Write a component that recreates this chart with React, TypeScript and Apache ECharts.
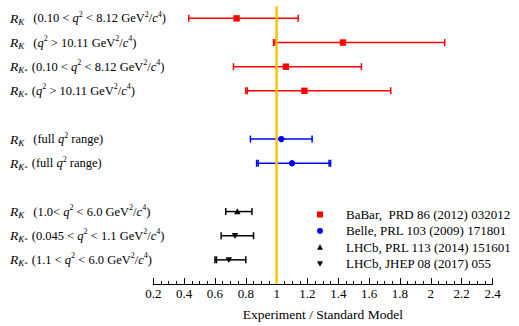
import React, { useEffect, useRef } from "react";
import * as echarts from "echarts";

// Row positions on the vertical scale (gaps separate the experiment groups)
const LABEL_ROWS = [0, 1, 2, 3, 5, 6, 8, 9, 10];
const LABEL_MESONS = ["K", "K", "K*", "K*", "K", "K*", "K", "K*", "K*"];

// BaBar
const BABAR_ROWS = [0, 1, 2, 3];
const BABAR_VALUES = [0.74, 1.43, 1.06, 1.18];
const BABAR_LOW = [0.43, 0.98, 0.72, 0.8];
const BABAR_HIGH = [1.14, 2.09, 1.55, 1.74];
const BABAR_LOW_INNER = [null, 0.99, null, 0.81];
const BABAR_HIGH_INNER = [null, null, null, null];

// Belle
const BELLE_ROWS = [5, 6];
const BELLE_VALUES = [1.03, 1.1];
const BELLE_LOW = [0.83, 0.87];
const BELLE_HIGH = [1.23, 1.35];
const BELLE_LOW_INNER = [null, 0.88];
const BELLE_HIGH_INNER = [null, 1.34];

// LHCb R_K
const LHCB_K_ROWS = [8];
const LHCB_K_VALUES = [0.745];
const LHCB_K_LOW = [0.67];
const LHCB_K_HIGH = [0.84];
const LHCB_K_LOW_INNER = [null];
const LHCB_K_HIGH_INNER = [null];

// LHCb R_K*
const LHCB_KST_ROWS = [9, 10];
const LHCB_KST_VALUES = [0.73, 0.69];
const LHCB_KST_LOW = [0.64, 0.6];
const LHCB_KST_HIGH = [0.85, 0.8];
const LHCB_KST_LOW_INNER = [null, 0.61];
const LHCB_KST_HIGH_INNER = [null, null];

const STANDARD_MODEL = [1];

const X_MIN = 0.2;
const X_MAX = 2.4;
const X_STEP = 0.2;
const Y_MIN = -0.5;
const Y_MAX = 11;

const LEGEND_NAMES = [
  "BaBar,  PRD 86 (2012) 032012",
  "Belle, PRL 103 (2009) 171801",
  "LHCb, PRL 113 (2014) 151601",
  "LHCb, JHEP 08 (2017) 055",
];
const LEGEND_COLORS = ["#ff0000", "#0000ff", "#000000", "#000000"];
const LEGEND_SHAPES: Shape[] = ["square", "circle", "up", "down"];

const FONT = "Liberation Serif, serif";

// rich-text pieces for the q^2 ranges
const Q2 = "{i|q}{sup|2}";
const UNIT = "{n| GeV}{sup|2}{n|/}{i|c}{sup|4}";
const LABEL_RANGES = [
  `{n|0.10 < }${Q2}{n| < 8.12}${UNIT}`,
  `${Q2}{n| > 10.11}${UNIT}`,
  `{n|0.10 < }${Q2}{n| < 8.12}${UNIT}`,
  `${Q2}{n| > 10.11}${UNIT}`,
  `{n|full }${Q2}{n| range}`,
  `{n|full }${Q2}{n| range}`,
  `{n|1.0< }${Q2}{n| < 6.0}${UNIT}`,
  `{n|0.045 < }${Q2}{n| < 1.1}${UNIT}`,
  `{n|1.1 < }${Q2}{n| < 6.0}${UNIT}`,
];

function labelText(i: number): string {
  const meson = LABEL_MESONS[i];
  const sub = meson === "K*" ? "{s|K}{st|*}" : "{s|K}";
  const open = meson === "K*" ? "{pks|(}" : "{pk|(}";
  return `{r|R}${sub}${open}${LABEL_RANGES[i]}{n|)}`;
}

const RICH = {
  r: { fontFamily: FONT, fontStyle: "italic", fontSize: 13.5, lineHeight: 16, verticalAlign: "middle", fill: "#000" },
  s: { fontFamily: FONT, fontStyle: "italic", fontSize: 9, lineHeight: 6, verticalAlign: "bottom", fill: "#000" },
  st: { fontFamily: FONT, fontSize: 7, lineHeight: 10, verticalAlign: "bottom", fill: "#000" },
  pk: { fontFamily: FONT, fontSize: 12.5, lineHeight: 16, verticalAlign: "middle", padding: [0, 0, 0, 9], fill: "#000" },
  pks: { fontFamily: FONT, fontSize: 12.5, lineHeight: 16, verticalAlign: "middle", padding: [0, 0, 0, 4], fill: "#000" },
  n: { fontFamily: FONT, fontSize: 12.5, lineHeight: 16, verticalAlign: "middle", fill: "#000" },
  i: { fontFamily: FONT, fontStyle: "italic", fontSize: 12.5, lineHeight: 16, verticalAlign: "middle", fill: "#000" },
  sup: { fontFamily: FONT, fontSize: 8, lineHeight: 9, verticalAlign: "top", fill: "#000" },
};

type Shape = "square" | "circle" | "up" | "down";

// marker element centred on (x, y)
function marker(shape: Shape, x: number, y: number, color: string, m: number): any {
  if (shape === "square") {
    return { type: "rect", shape: { x: x - m, y: y - m, width: 2 * m, height: 2 * m }, style: { fill: color } };
  }
  if (shape === "circle") {
    return { type: "circle", shape: { cx: x, cy: y, r: m }, style: { fill: color } };
  }
  if (shape === "up") {
    return { type: "polygon", shape: { points: [[x, y - m], [x - m, y + m - 0.5], [x + m, y + m - 0.5]] }, style: { fill: color } };
  }
  return { type: "polygon", shape: { points: [[x - m, y - m + 0.5], [x + m, y - m + 0.5], [x, y + m]] }, style: { fill: color } };
}

function buildData(rows: number[], vals: number[], lo: number[], hi: number[], loIn: (number | null)[], hiIn: (number | null)[]) {
  return rows.map((r, i) => [r, vals[i], lo[i], hi[i], loIn[i] == null ? "-" : loIn[i], hiIn[i] == null ? "-" : hiIn[i]]);
}

function errorBarRenderer(shape: Shape, color: string) {
  return (params: any, api: any) => {
    const row = api.value(0);
    const c = api.coord([api.value(1), row]);
    const lo = api.coord([api.value(2), row]);
    const hi = api.coord([api.value(3), row]);
    const y = c[1];
    const lw = 1.5;
    const cap = 3.5;
    const children: any[] = [
      { type: "line", shape: { x1: lo[0], y1: y, x2: hi[0], y2: y }, style: { stroke: color, lineWidth: lw } },
    ];
    const capXs = [lo[0], hi[0]];
    [api.value(4), api.value(5)].forEach((v: number) => {
      if (isFinite(v)) capXs.push(api.coord([v, row])[0]);
    });
    capXs.forEach((x) =>
      children.push({ type: "line", shape: { x1: x, y1: y - cap, x2: x, y2: y + cap }, style: { stroke: color, lineWidth: lw } })
    );
    children.push(marker(shape, c[0], y, color, 3.2));
    return { type: "group", children };
  };
}

function errorSeries(name: string, shape: Shape, color: string, data: any[]) {
  return {
    type: "custom",
    name,
    dimensions: ["row", "value", "low", "high", "lowInner", "highInner"],
    encode: { y: 0, x: [1, 2, 3, 4, 5] },
    itemStyle: { color },
    renderItem: errorBarRenderer(shape, color),
    data,
    z: 3,
  };
}

export default function App() {
  const ref = useRef<HTMLDivElement>(null);

  useEffect(() => {
    document.body.style.margin = "0";
    if (!ref.current) return;
    const chart = echarts.init(ref.current, undefined, { renderer: "svg" });

    // legend block in the lower right
    const legendTop = 214.5;
    const legendStep = 16.4;
    const legendGraphic = LEGEND_NAMES.map((name, i) => ({
      type: "group",
      x: 320,
      y: legendTop + i * legendStep,
      children: [
        marker(LEGEND_SHAPES[i], 0, 0, LEGEND_COLORS[i], 3),
        {
          type: "text",
          x: 26,
          y: 0,
          style: { text: name, font: `13px ${FONT}`, fill: "#000", verticalAlign: "middle", align: "left" },
        },
      ],
    }));

    const option: any = {
      animation: false,
      backgroundColor: "#fff",
      grid: { left: 153.3, right: 26.5, top: 6.3, bottom: 37.5 },
      xAxis: {
        type: "value",
        min: X_MIN,
        max: X_MAX,
        interval: X_STEP,
        axisLine: { show: true, onZero: false, lineStyle: { color: "#000", width: 1 } },
        axisTick: { show: true, inside: true, length: 6, lineStyle: { color: "#000" } },
        minorTick: { show: true, splitNumber: 4, length: 3, lineStyle: { color: "#000" } },
        splitLine: { show: false },
        axisLabel: {
          color: "#000",
          fontFamily: FONT,
          fontSize: 13,
          margin: 3,
          formatter: (v: number) => String(Number(v.toFixed(1))),
        },
        name: "Experiment / Standard Model",
        nameLocation: "middle",
        nameGap: 23,
        nameTextStyle: { color: "#000", fontFamily: FONT, fontSize: 13.5 },
      },
      yAxis: {
        type: "value",
        inverse: true,
        min: Y_MIN,
        max: Y_MAX,
        show: false,
      },
      graphic: legendGraphic,
      series: [
        // row labels on the left
        {
          type: "custom",
          name: "labels",
          dimensions: ["row"],
          encode: { y: 0 },
          data: LABEL_ROWS.map((r) => [r]),
          renderItem: (params: any, api: any) => {
            const p = api.coord([X_MIN, api.value(0)]);
            return {
              type: "text",
              x: params.coordSys.x - 143.3,
              y: p[1],
              style: {
                text: labelText(params.dataIndex),
                rich: RICH,
                verticalAlign: "middle",
                align: "left",
                fill: "#000",
              },
            };
          },
        },
        errorSeries(LEGEND_NAMES[2], "up", "#000000", buildData(LHCB_K_ROWS, LHCB_K_VALUES, LHCB_K_LOW, LHCB_K_HIGH, LHCB_K_LOW_INNER, LHCB_K_HIGH_INNER)),
        errorSeries(LEGEND_NAMES[3], "down", "#000000", buildData(LHCB_KST_ROWS, LHCB_KST_VALUES, LHCB_KST_LOW, LHCB_KST_HIGH, LHCB_KST_LOW_INNER, LHCB_KST_HIGH_INNER)),
        errorSeries(LEGEND_NAMES[0], "square", "#ff0000", buildData(BABAR_ROWS, BABAR_VALUES, BABAR_LOW, BABAR_HIGH, BABAR_LOW_INNER, BABAR_HIGH_INNER)),
        errorSeries(LEGEND_NAMES[1], "circle", "#0000ff", buildData(BELLE_ROWS, BELLE_VALUES, BELLE_LOW, BELLE_HIGH, BELLE_LOW_INNER, BELLE_HIGH_INNER)),
        // Standard Model reference line
        {
          type: "custom",
          name: "Standard Model",
          dimensions: ["value"],
          encode: { x: 0 },
          data: STANDARD_MODEL.map((v) => [v]),
          z: 4,
          renderItem: (params: any, api: any) => {
            const top = api.coord([api.value(0), Y_MIN]);
            const bottom = api.coord([api.value(0), Y_MAX]);
            return {
              type: "line",
              shape: { x1: top[0], y1: top[1], x2: bottom[0], y2: bottom[1] },
              style: { stroke: "#ffc400", lineWidth: 2.5 },
            };
          },
        },
      ],
    };

    chart.setOption(option);
    return () => chart.dispose();
  }, []);

  return <div ref={ref} style={{ width: 519, height: 326 }} />;
}
